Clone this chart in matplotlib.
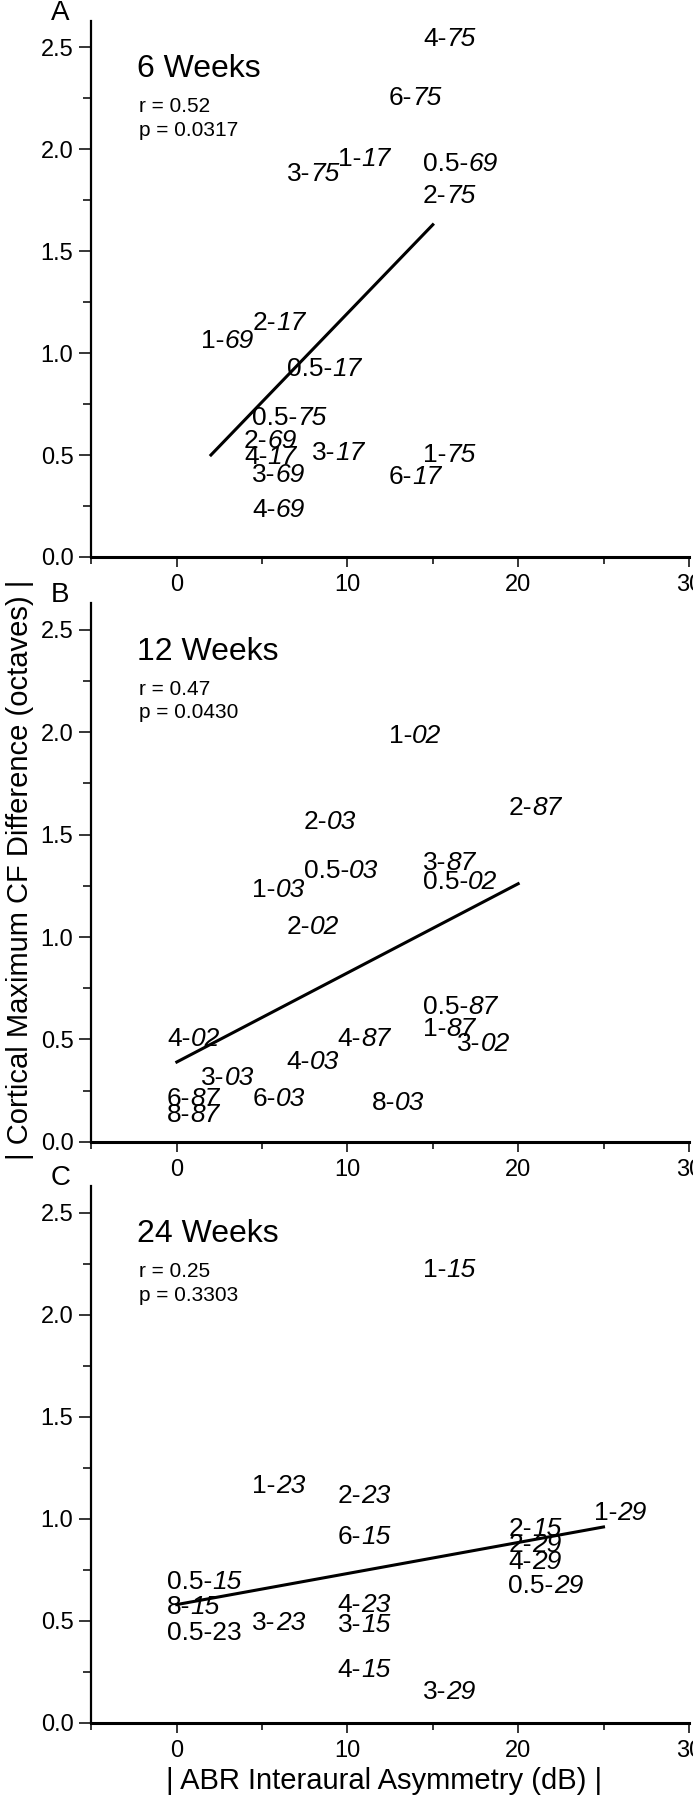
import matplotlib
matplotlib.use('Agg')
import matplotlib.pyplot as plt
from matplotlib.ticker import MultipleLocator
from matplotlib.font_manager import FontProperties

plt.rcParams['font.family'] = ['Liberation Sans', 'DejaVu Sans']

# 6 weeks
labels_a = ['4-75', '6-75', '3-75', '1-17', '0.5-69', '2-75', '2-17', '1-69', '0.5-17',
            '0.5-75', '2-69', '4-17', '3-17', '1-75', '3-69', '6-17', '4-69']
abr_a = [15, 13, 7, 10, 15, 15, 5, 2, 7, 5, 4.5, 4.5, 8.5, 15, 5, 13, 5]
cf_a = [2.54, 2.25, 1.88, 1.95, 1.93, 1.77, 1.15, 1.06, 0.92,
        0.68, 0.57, 0.49, 0.51, 0.50, 0.40, 0.39, 0.23]
fit_a_x = [2, 15]
fit_a_y = [0.50, 1.63]

# 12 weeks
labels_b = ['1-02', '2-87', '2-03', '0.5-03', '3-87', '0.5-02', '1-03', '2-02', '0.5-87',
            '1-87', '3-02', '4-87', '4-02', '4-03', '3-03', '6-87', '8-87', '6-03', '8-03']
abr_b = [13, 20, 8, 8, 15, 15, 5, 7, 15, 15, 17, 10, 0, 7, 2, 0, 0, 5, 12]
cf_b = [1.98, 1.63, 1.56, 1.32, 1.36, 1.27, 1.23, 1.05, 0.66,
        0.55, 0.48, 0.50, 0.50, 0.39, 0.31, 0.21, 0.13, 0.21, 0.19]
fit_b_x = [0, 20]
fit_b_y = [0.39, 1.26]

# 24 weeks
labels_c = ['1-15', '1-23', '2-23', '6-15', '1-29', '2-15', '2-29', '4-29', '0.5-29',
            '0.5-15', '8-15', '0.5-23', '3-23', '4-23', '3-15', '4-15', '3-29']
abr_c = [15, 5, 10, 10, 25, 20, 20, 20, 20, 0, 0, 0, 5, 10, 10, 10, 15]
cf_c = [2.22, 1.16, 1.11, 0.91, 1.03, 0.95, 0.87, 0.79, 0.67,
        0.69, 0.57, 0.44, 0.49, 0.58, 0.48, 0.26, 0.15]
fit_c_x = [0, 25]
fit_c_y = [0.58, 0.96]

upright = ['0.5-23']

panels = ['A', 'B', 'C']
weeks = ['6 Weeks', '12 Weeks', '24 Weeks']
r_text = ['r = 0.52', 'r = 0.47', 'r = 0.25']
p_text = ['p = 0.0317', 'p = 0.0430', 'p = 0.3303']

fig = plt.figure(figsize=(6.93, 18), dpi=100)
renderer = fig.canvas.get_renderer()
lab_font = FontProperties(family='Liberation Sans', size=19)


def draw(ax, abr, cf, labels, fx, fy, letter, title, rt, pt):
    for x, y, lab in zip(abr, cf, labels):
        if lab in upright:
            ax.annotate(lab, (x, y), xytext=(-7, 0), textcoords='offset points',
                        ha='left', va='center', fontsize=19)
            continue
        a, b = lab.split('-')
        ax.annotate(a + '-', (x, y), xytext=(-7, 0), textcoords='offset points',
                    ha='left', va='center', fontsize=19)
        w = renderer.get_text_width_height_descent(a + '-', lab_font, ismath=False)[0]
        w = w * 72 / fig.dpi
        ax.annotate(b, (x, y), xytext=(-7 + w, 0), textcoords='offset points',
                    ha='left', va='center', fontsize=19, fontstyle='italic')
    ax.plot(fx, fy, color='black', lw=2.2)
    ax.set_xlim(-5, 30)
    ax.set_ylim(0, 2.63)
    ax.spines['top'].set_visible(False)
    ax.spines['right'].set_visible(False)
    ax.spines['bottom'].set_linewidth(2.2)
    ax.spines['left'].set_linewidth(1.6)
    ax.xaxis.set_major_locator(MultipleLocator(10))
    ax.xaxis.set_minor_locator(MultipleLocator(5))
    ax.yaxis.set_major_locator(MultipleLocator(0.5))
    ax.yaxis.set_minor_locator(MultipleLocator(0.25))
    ax.yaxis.set_major_formatter('{x:.1f}')
    ax.tick_params(axis='x', which='major', length=7, width=1.1, labelsize=17, pad=5)
    ax.tick_params(axis='x', which='minor', length=5, width=1.1)
    ax.tick_params(axis='y', which='major', length=9, width=1.1, labelsize=17, pad=4)
    ax.tick_params(axis='y', which='minor', length=6, width=1.1)
    ax.text(-0.052, 1.015, letter, transform=ax.transAxes, ha='center', va='center', fontsize=20)
    ax.text(0.077, 0.895, title, transform=ax.transAxes, ha='left', va='baseline', fontsize=23)
    ax.text(0.08, 0.830, rt, transform=ax.transAxes, ha='left', va='baseline', fontsize=15)
    ax.text(0.08, 0.786, pt, transform=ax.transAxes, ha='left', va='baseline', fontsize=15)


#plot A
ax1 = fig.add_axes([0.132, 0.6906, 0.862, 0.2978])
draw(ax1, abr_a, cf_a, labels_a, fit_a_x, fit_a_y, panels[0], weeks[0], r_text[0], p_text[0])

#plot B
ax2 = fig.add_axes([0.132, 0.3656, 0.862, 0.2994])
draw(ax2, abr_b, cf_b, labels_b, fit_b_x, fit_b_y, panels[1], weeks[1], r_text[1], p_text[1])

#plot C
ax3 = fig.add_axes([0.132, 0.0428, 0.862, 0.2983])
draw(ax3, abr_c, cf_c, labels_c, fit_c_x, fit_c_y, panels[2], weeks[2], r_text[2], p_text[2])

# shared axis labels
fig.text(0.029, 0.517, '| Cortical Maximum CF Difference (octaves) |', rotation=90,
         ha='center', va='center', fontsize=21)
fig.text(0.554, 0.0106, '| ABR Interaural Asymmetry (dB) |', ha='center', va='center', fontsize=21)

fig.savefig('out.png', dpi=100)
